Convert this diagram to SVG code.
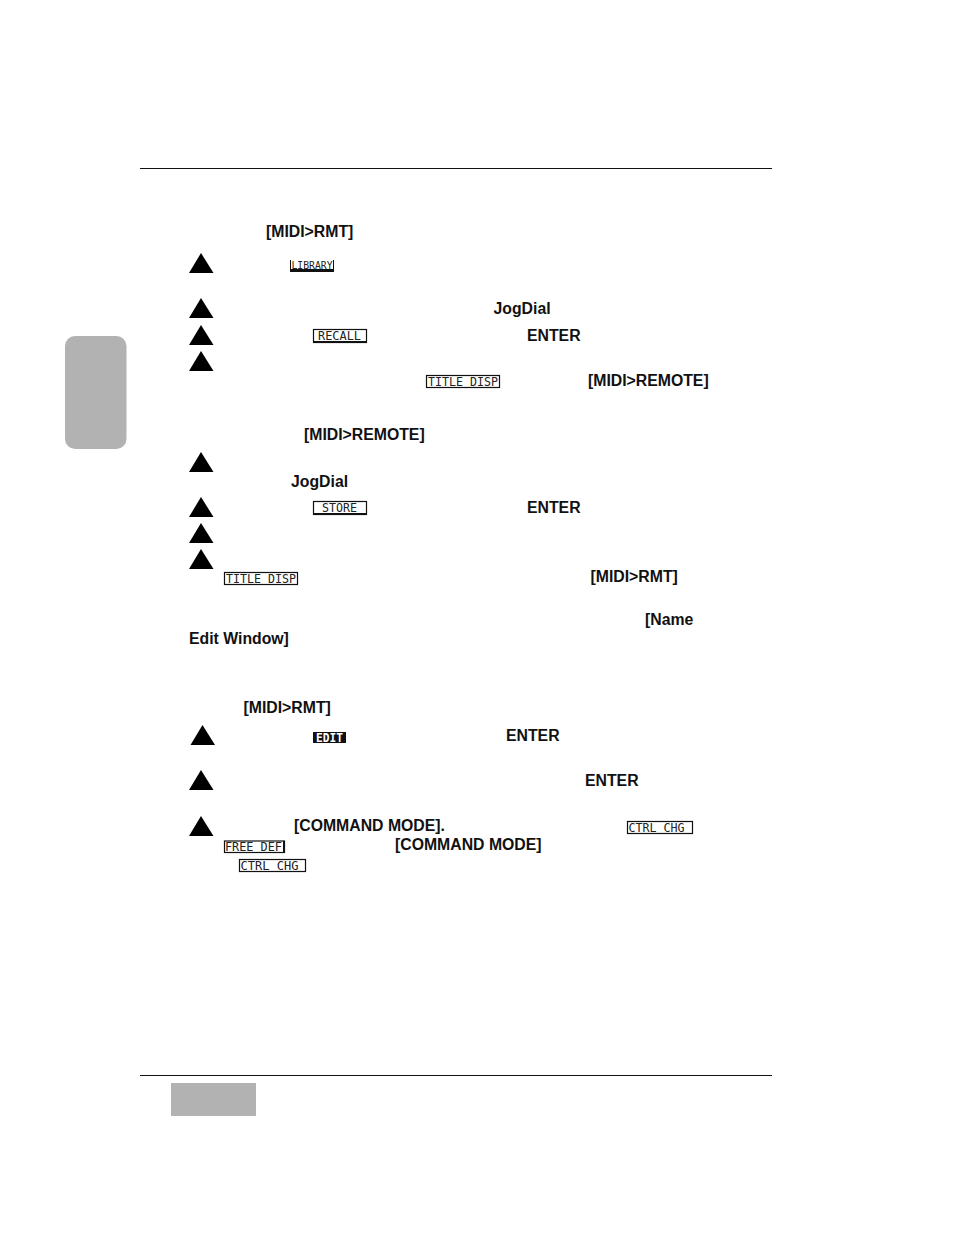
<svg xmlns="http://www.w3.org/2000/svg" width="954" height="1235" viewBox="0 0 954 1235">
<style>
.t{font-family:"Liberation Sans",Arial,sans-serif;font-weight:700;font-size:15.8px;fill:#111}
.l{font-family:"DejaVu Sans Mono","Liberation Mono",monospace;font-size:11.5px;fill:#222}
.b{fill:#fff;stroke:#111;stroke-width:1.2}
.s{fill:#111}
.g{fill:#b2b2b2}
</style>
<defs><polygon id="tri" points="12,0 24.5,20 0,20" fill="#000"/></defs>
<rect width="954" height="1235" fill="#fff"/>
<g id="rules"><rect x="140" y="168" width="632" height="1" fill="#111"/><rect x="140" y="1075" width="632" height="1" fill="#111"/></g>
<rect id="tab" class="g" x="65" y="336" width="61.500" height="113" rx="10"/>
<rect id="page" class="g" x="171" y="1083" width="85" height="33"/>
<g id="markers">
<use href="#tri" x="189" y="253"/><use href="#tri" x="189" y="298"/><use href="#tri" x="189" y="325"/><use href="#tri" x="189" y="351"/>
<use href="#tri" x="189" y="452"/><use href="#tri" x="189" y="497"/><use href="#tri" x="189" y="523"/><use href="#tri" x="189" y="549"/>
<use href="#tri" x="190.500" y="725"/><use href="#tri" x="189" y="770"/><use href="#tri" x="189" y="816"/>
</g>
<g id="text">
<text class="t" x="266" y="237">[MIDI&gt;RMT]</text>
<text class="t" x="493.500" y="314">JogDial</text>
<text class="t" x="527" y="341">ENTER</text>
<text class="t" x="588" y="386">[MIDI&gt;REMOTE]</text>
<text class="t" x="304" y="440">[MIDI&gt;REMOTE]</text>
<text class="t" x="291" y="487">JogDial</text>
<text class="t" x="527" y="513">ENTER</text>
<text class="t" x="590.500" y="582">[MIDI&gt;RMT]</text>
<text class="t" x="645" y="625">[Name</text>
<text class="t" x="189" y="644">Edit Window]</text>
<text class="t" x="243.500" y="713">[MIDI&gt;RMT]</text>
<text class="t" x="506" y="741">ENTER</text>
<text class="t" x="585" y="786">ENTER</text>
<text class="t" x="294" y="831">[COMMAND MODE].</text>
<text class="t" x="395" y="850">[COMMAND MODE]</text>
</g>
<g id="lcd-library"><rect class="s" x="290" y="260" width="44" height="12"/><rect x="291" y="260" width="42" height="9" fill="#fff"/><text class="l" x="291.500" y="268.500" style="font-size:10.5px" textLength="41" lengthAdjust="spacingAndGlyphs">LIBRARY</text></g>
<g id="lcd-recall"><rect class="b" x="313.500" y="329.500" width="53" height="13"/><rect class="s" x="314" y="341" width="53" height="2"/><text class="l" x="318" y="340" textLength="43" lengthAdjust="spacingAndGlyphs">RECALL</text></g>
<g id="lcd-title1"><rect class="b" x="426.500" y="375.500" width="73" height="12"/><text class="l" x="428" y="386" textLength="70" lengthAdjust="spacingAndGlyphs">TITLE DISP</text></g>
<g id="lcd-store"><rect class="b" x="313.500" y="501.500" width="53" height="13"/><rect class="s" x="314" y="513" width="53" height="2"/><text class="l" x="322" y="512" textLength="35" lengthAdjust="spacingAndGlyphs">STORE</text></g>
<g id="lcd-title2"><rect class="b" x="224.500" y="572.500" width="73" height="12"/><text class="l" x="226" y="583" textLength="70" lengthAdjust="spacingAndGlyphs">TITLE DISP</text></g>
<g id="lcd-edit"><rect class="s" x="313" y="732" width="33" height="11"/><text class="l" x="316" y="741.500" style="fill:#fff;font-weight:700" textLength="27" lengthAdjust="spacingAndGlyphs">EDIT</text></g>
<g id="lcd-ctrl1"><rect class="b" x="627.500" y="821.500" width="65" height="12"/><text class="l" x="628.500" y="832" textLength="56" lengthAdjust="spacingAndGlyphs">CTRL CHG</text></g>
<g id="lcd-free"><rect class="b" x="224.500" y="841" width="60" height="11.500"/><rect class="s" x="283" y="841" width="2" height="12"/><text class="l" x="225" y="851" textLength="57" lengthAdjust="spacingAndGlyphs">FREE DEF</text></g>
<g id="lcd-ctrl2"><rect class="b" x="239.500" y="859.500" width="66" height="12"/><text class="l" x="240.500" y="870" textLength="58" lengthAdjust="spacingAndGlyphs">CTRL CHG</text></g>
</svg>
